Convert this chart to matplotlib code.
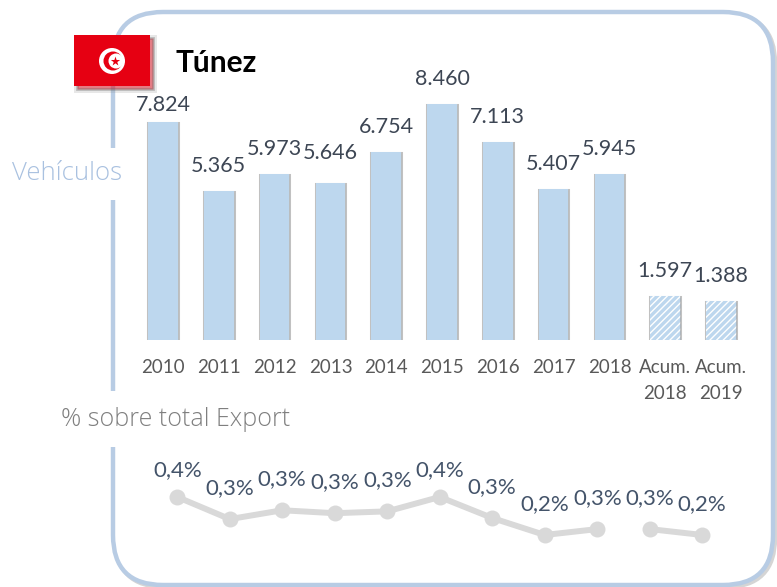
import numpy as np
import matplotlib
matplotlib.use("Agg")
import matplotlib.pyplot as plt
import matplotlib.patheffects as pe
from matplotlib.patches import FancyBboxPatch, Rectangle, Circle

W, H = 777, 587

years = ["2010", "2011", "2012", "2013", "2014", "2015", "2016", "2017", "2018",
         "Acum.\n2018", "Acum.\n2019"]
vehiculos = [7824, 5365, 5973, 5646, 6754, 8460, 7113, 5407, 5945, 1597, 1388]
vehiculos_txt = ["7.824", "5.365", "5.973", "5.646", "6.754", "8.460", "7.113",
                 "5.407", "5.945", "1.597", "1.388"]
pct = [0.352, 0.292, 0.316, 0.308, 0.313, 0.352, 0.295, 0.249, 0.265, 0.265, 0.249]
pct_txt = ["0,4%", "0,3%", "0,3%", "0,3%", "0,3%", "0,4%", "0,3%", "0,2%", "0,3%",
           "0,3%", "0,2%"]

BLUE = "#BDD7EE"
FRAME = "#B8CCE4"
DARK = "#44546A"
plt.rcParams["font.family"] = ["Lato", "DejaVu Sans"]
plt.rcParams["hatch.linewidth"] = 2.4


def px_axes(left, right, top, bottom):
    # axes placed with pixel coords, y measured from the top
    return fig.add_axes([left / W, 1 - bottom / H, (right - left) / W, (bottom - top) / H])


fig = plt.figure(figsize=(W / 100, H / 100), dpi=100)

# frame and flag, in pixels
bg = px_axes(0, W, 0, H)
bg.set_xlim(0, W)
bg.set_ylim(H, 0)
bg.axis("off")
frame = FancyBboxPatch((113, 12), 660, 573, boxstyle="round,pad=0,rounding_size=50",
                       fc="white", ec=FRAME, lw=3.2, zorder=2)
frame.set_path_effects([pe.Stroke(linewidth=3.2, foreground="#888888", alpha=0.35, offset=(1.5, -1.5)),
                        pe.Normal()])
bg.add_patch(frame)
bg.add_patch(Rectangle((100, 148), 30, 52, fc="white", ec="none", zorder=3))
bg.add_patch(Rectangle((100, 391), 30, 56, fc="white", ec="none", zorder=3))

flag = Rectangle((74, 35), 76, 51, fc="#E60012", ec="none", zorder=5)
flag.set_path_effects([pe.Stroke(linewidth=5, foreground="#888888", alpha=0.2, offset=(2, -2)),
                       pe.Stroke(linewidth=2, foreground="#666666", alpha=0.35, offset=(2, -2)),
                       pe.Normal()])
bg.add_patch(flag)
bg.add_patch(Circle((112, 61), 13, fc="white", ec="none", zorder=6))
bg.add_patch(Circle((113, 61), 9.5, fc="#E60012", ec="none", zorder=7))
bg.add_patch(Circle((116, 61), 7.5, fc="white", ec="none", zorder=8))
bg.scatter([115], [61], marker="*", s=50, c="#E60012", linewidths=0, zorder=9)

bg.text(176, 63, "Túnez", fontsize=21.5, fontweight="bold", color="black", va="center", zorder=6)
bg.text(67, 174, "Vehículos", fontsize=18.5, color="#A9C1E0", family="Open Sans", fontweight="light",
        ha="center", va="center", zorder=6)
bg.text(175.5, 420, "% sobre total Export", fontsize=18, color="#7F7F7F", family="Open Sans",
        fontweight="light", ha="center", va="center", zorder=6)

# bars
ax = px_axes(135.1, 749, 60, 340)
ax.patch.set_alpha(0)
x = np.arange(len(years))
bars = ax.bar(x, vehiculos, width=0.53, color=BLUE, linewidth=0)
for b in bars[-2:]:
    b.set_facecolor("white")
    b.set_edgecolor(BLUE)
    b.set_hatch("/////")
    b.set_linewidth(0)
for b in bars:
    b.set_path_effects([pe.Stroke(linewidth=2.2, foreground="#666666", alpha=0.4, offset=(0, -0.8)),
                        pe.Normal()])
ax.set_xlim(-0.5, len(years) - 0.5)
ax.set_ylim(0, 280 / 0.02786)
ax.set_xticks(x)
ax.set_xticklabels(years, fontsize=13.5, color="#595959", linespacing=1.6)
ax.tick_params(axis="x", length=0, pad=14)
ax.set_yticks([])
for s in ax.spines.values():
    s.set_visible(False)

bar_nudge = {0: -8, 3: 5}
for i, v in enumerate(vehiculos):
    ax.annotate(vehiculos_txt[i], (x[i], v), xytext=(0, (25 + bar_nudge.get(i, 0)) * 0.72),
                textcoords="offset points", ha="center", va="center",
                fontsize=15.5, color="#3D4654", annotation_clip=False)

# share line
ax2 = px_axes(151, 728.5, 470, 550)
ax2.patch.set_alpha(0)
ax2.plot(x[:9], pct[:9], color="#D9D9D9", lw=4.3, marker="o", ms=11.5, mew=0)
ax2.plot(x[9:], pct[9:], color="#D9D9D9", lw=4.3, marker="o", ms=11.5, mew=0)
ax2.set_xlim(-0.5, len(years) - 0.5)
ax2.set_ylim(0.2083, 0.4251)
ax2.axis("off")
for i, v in enumerate(pct):
    off = 27 if pct_txt[i] == "0,4%" else 31
    ax2.annotate(pct_txt[i], (x[i], v), xytext=(0, off * 0.72), textcoords="offset points",
                 ha="center", va="center", fontsize=16, color=DARK, annotation_clip=False)

fig.savefig("out.png", dpi=100)
